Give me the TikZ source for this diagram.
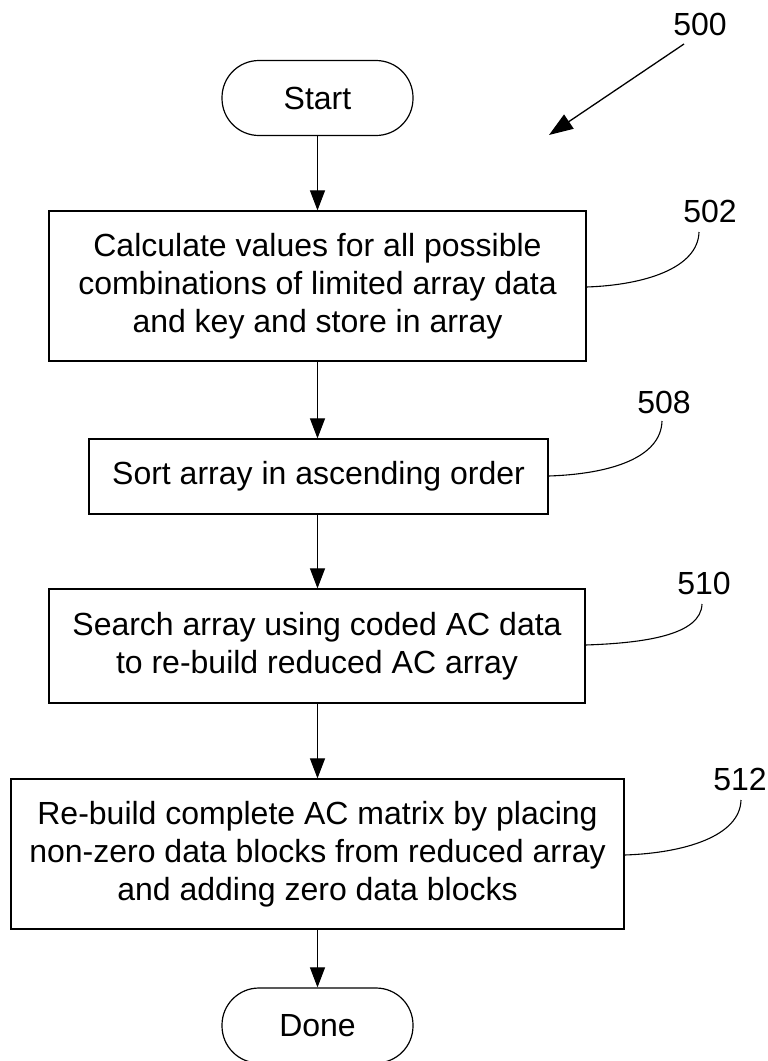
\documentclass[tikz,border=0pt]{standalone}
\usepackage{fontspec}
\setmainfont{Liberation Sans}
\usetikzlibrary{arrows.meta}
\begin{document}
\begin{tikzpicture}[x=1pt,y=-1pt,
  every node/.style={font=\fontsize{32}{38}\selectfont, inner sep=0pt},
  procbox/.style={draw, line width=1.2pt, align=center, minimum width=#1},
  termbox/.style={draw, line width=1.2pt, rounded corners=37pt, minimum width=191pt, minimum height=75pt},
  flowarr/.style={draw, line width=1.1pt, -{Triangle[length=20pt,width=15pt]}},
  refline/.style={draw, line width=1.1pt},
  bigarr/.style={draw, line width=1.3pt, -{Triangle[length=24pt,width=17pt]}},
  lbl/.style={font=\fontsize{32}{38}\selectfont}
]
\useasboundingbox (0,0) rectangle (768,1061);
\clip (0,0) rectangle (768,1061);

% nodes
\node[termbox] (start) at (317.5,98) {Start};
\node[procbox=537pt, minimum height=150pt] (b502) at (317.5,286)
  {Calculate values for all possible\\combinations of limited array data\\and key and store in array};
\node[procbox=459pt, minimum height=75pt] (b508) at (318.5,476.5)
  {Sort array in ascending order};
\node[procbox=536pt, minimum height=114pt] (b510) at (317,646)
  {Search array using coded AC data\\to re-build reduced AC array};
\node[procbox=613pt, minimum height=150pt] (b512) at (317.5,854)
  {Re-build complete AC matrix by placing\\non-zero data blocks from reduced array\\and adding zero data blocks};
\node[termbox] (done) at (317.5,1025.5) {Done};

% flow arrows
\draw[flowarr] (start.south) -- (start.south |- b502.north);
\draw[flowarr] (b502.south -| start.south) -- (start.south |- b508.north);
\draw[flowarr] (b508.south -| start.south) -- (start.south |- b510.north);
\draw[flowarr] (b510.south -| start.south) -- (start.south |- b512.north);
\draw[flowarr] (b512.south -| start.south) -- (done.north);

% reference labels
\node[lbl] (l500) at (700,24) {500};
\node[lbl] (l502) at (710,211) {502};
\node[lbl] (l508) at (664,402) {508};
\node[lbl] (l510) at (704,583) {510};
\node[lbl] (l512) at (740,779) {512};

\coordinate (s500) at (684,44);
\coordinate (t500) at (549,135);
\draw[bigarr] (s500) -- (t500);

\coordinate (e502) at (699,232);
\coordinate (e508) at (662,421);
\coordinate (e510) at (702,604);
\coordinate (e512) at (741,800);

\draw[refline] (b502.east |- 0,287) .. controls (645,285) and (698,268) .. (e502);
\draw[refline] (b508.east |- 0,476) .. controls (610,474) and (661,458) .. (e508);
\draw[refline] (b510.east |- 0,645) .. controls (645,643) and (701,635) .. (e510);
\draw[refline] (b512.east |- 0,855) .. controls (685,853) and (740,836) .. (e512);
\end{tikzpicture}
\end{document}
